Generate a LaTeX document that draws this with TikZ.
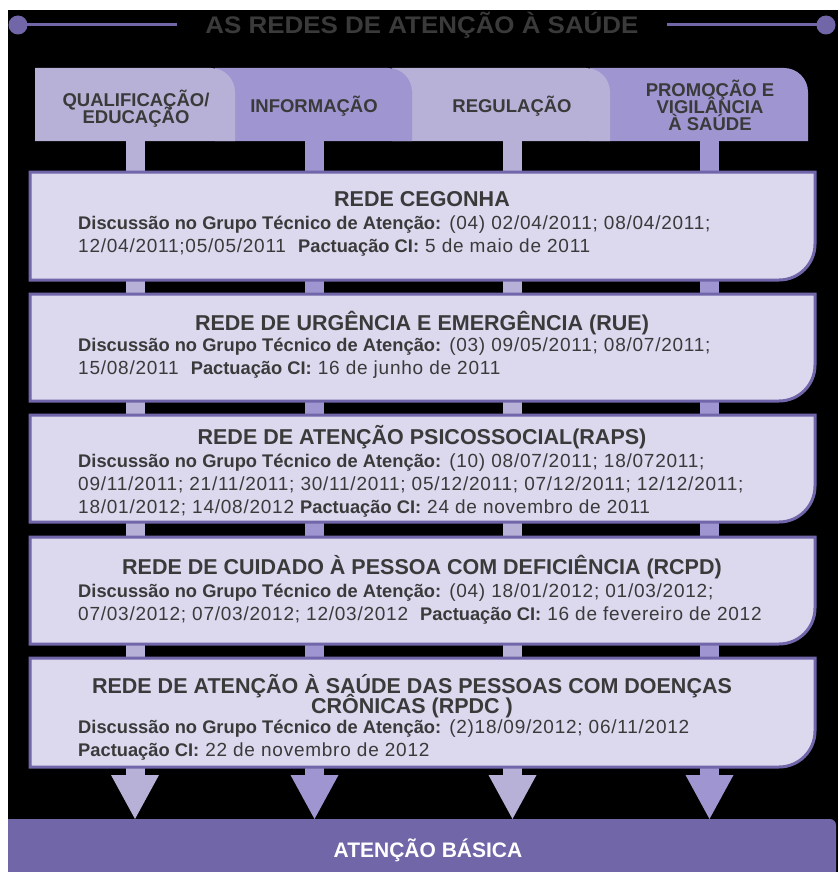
\documentclass[tikz,border=0pt]{standalone}
\usepackage{fontspec}
\setmainfont{Liberation Sans}
\newfontfamily\corpo{Liberation Sans}[LetterSpace=4]
\usetikzlibrary{arrows.meta}

\definecolor{lilasclaro}{HTML}{B7B1D7}
\definecolor{lilas}{HTML}{9F95D1}
\definecolor{caixafundo}{HTML}{DCD8EE}
\definecolor{caixaborda}{HTML}{7066A9}
\definecolor{roxo}{HTML}{7066A8}
\definecolor{cinzatexto}{HTML}{3A3A3A}

\tikzset{
  aba/.style={font=\fontsize{18.5}{17}\selectfont\bfseries, text=cinzatexto, align=center, inner sep=0pt},
  tituloRede/.style={font=\fontsize{21.5}{20}\selectfont\bfseries, text=cinzatexto, align=center, anchor=base, inner sep=0pt},
  textoRede/.style={font=\corpo\fontsize{19}{23}\selectfont, text=cinzatexto, align=left, anchor=base west, inner sep=0pt},
  haste/.style={line width=19pt},
  ponta/.style={-{Triangle[width=48pt, length=44pt, line width=0pt, fill=#1]}, draw=#1},
}

% rotulo em negrito sem espacamento extra
\newcommand{\rotulo}[1]{{\rmfamily\bfseries\fontsize{18.3}{23}\selectfont #1}}
% caixa de cada rede: topo, base
\newcommand{\caixarede}[2]{%
  \filldraw[fill=caixafundo, draw=caixaborda, line width=3pt]
    (30,#1) -- (815,#1) -- (815,#2-36) arc[start angle=0, end angle=90, radius=36] -- (30,#2) -- cycle;}
% aba do topo: esquerda, direita, cor
\newcommand{\abaforma}[3]{%
  \fill[#3] (#1,141) -- (#1,68) -- (#2-24,68) arc[start angle=-90, end angle=0, radius=24] -- (#2,141) -- cycle;}

\begin{document}
\lineskiplimit=-20pt
\begin{tikzpicture}[x=1pt,y=-1pt]
  \useasboundingbox (0,0) rectangle (838,872);
  \fill[white] (0,0) rectangle (838,872);
  \fill[black] (8,10) rectangle (838,872);

  % titulo
  \coordinate (bolaE) at (18,25);
  \coordinate (bolaD) at (826,25);
  \node[font=\fontsize{24}{24}\selectfont\bfseries, text=cinzatexto, inner xsep=28pt] (titulo) at (422,25)
    {\scalebox{1.08}[1]{AS REDES DE ATENÇÃO À SAÚDE}};
  \draw[roxo, line width=3pt] (bolaE) -- (titulo.west);
  \draw[roxo, line width=3pt] (titulo.east) -- (bolaD);
  \fill[roxo] (bolaE) circle[radius=9.5];
  \fill[roxo] (bolaD) circle[radius=9.5];

  % abas
  \abaforma{590}{808}{lilas}
  \abaforma{392}{610}{lilasclaro}
  \abaforma{215}{412}{lilas}
  \abaforma{35}{235}{lilasclaro}
  \node[aba] (qualif) at (136,109) {QUALIFICAÇÃO/\\EDUCAÇÃO};
  \node[aba] (info) at (314,106) {INFORMAÇÃO};
  \node[aba] (regul) at (512,106) {REGULAÇÃO};
  \node[aba] (promo) at (710,105) {PROMOÇÃO E\\VIGILÂNCIA\\À SAÚDE};

  % base
  \fill[roxo] (8,819) -- (830,819) arc[start angle=-90, end angle=0, radius=6] -- (836,872) -- (8,872) -- cycle;
  \coordinate (basetopo) at (422,819);
  \node[font=\fontsize{21}{21}\selectfont\bfseries, text=white] (basica) at (428,850) {ATENÇÃO BÁSICA};

  % hastes das abas ate a base
  \coordinate (qualB) at (135,141);
  \coordinate (infoB) at (314.5,141);
  \coordinate (regulB) at (512.5,141);
  \coordinate (promoB) at (709.5,141);
  \draw[haste, ponta=lilasclaro] (qualB) -- (qualB |- basetopo);
  \draw[haste, ponta=lilas] (infoB) -- (infoB |- basetopo);
  \draw[haste, ponta=lilasclaro] (regulB) -- (regulB |- basetopo);
  \draw[haste, ponta=lilas] (promoB) -- (promoB |- basetopo);

  % redes
  \caixarede{172}{280}
  \caixarede{294}{401}
  \caixarede{415}{522}
  \caixarede{537}{644}
  \caixarede{658}{767}

  \node[tituloRede] (cegonha) at (422,206) {REDE CEGONHA};
  \node[textoRede] (cegonhaTxt) at (78,252)
    {\rotulo{Discussão no Grupo Técnico de Atenção:} (04) 02/04/2011; 08/04/2011;\\
     12/04/2011;05/05/2011\ \ \rotulo{Pactuação CI:} 5 de maio de 2011};

  \node[tituloRede] (rue) at (422,330) {REDE DE URGÊNCIA E EMERGÊNCIA (RUE)};
  \node[textoRede] (rueTxt) at (78,374.5)
    {\rotulo{Discussão no Grupo Técnico de Atenção:} (03) 09/05/2011; 08/07/2011;\\
     15/08/2011\ \ \rotulo{Pactuação CI:} 16 de junho de 2011};

  \node[tituloRede] (raps) at (422,444) {REDE DE ATENÇÃO PSICOSSOCIAL(RAPS)};
  \node[textoRede] (rapsTxt) at (78,513.5)
    {\rotulo{Discussão no Grupo Técnico de Atenção:} (10) 08/07/2011; 18/072011;\\
     09/11/2011; 21/11/2011; 30/11/2011; 05/12/2011; 07/12/2011; 12/12/2011;\\
     18/01/2012; 14/08/2012 \rotulo{Pactuação CI:} 24 de novembro de 2011};

  \node[tituloRede] (rcpd) at (422,574) {REDE DE CUIDADO À PESSOA COM DEFICIÊNCIA (RCPD)};
  \node[textoRede] (rcpdTxt) at (78,620.5)
    {\rotulo{Discussão no Grupo Técnico de Atenção:} (04) 18/01/2012; 01/03/2012;\\
     07/03/2012; 07/03/2012; 12/03/2012\ \ \rotulo{Pactuação CI:} 16 de fevereiro de 2012};

  \node[tituloRede] (rpdc) at (412,713) {REDE DE ATENÇÃO À SAÚDE DAS PESSOAS COM DOENÇAS\\CRÔNICAS (RPDC )};
  \node[textoRede] (rpdcTxt) at (78,756.5)
    {\rotulo{Discussão no Grupo Técnico de Atenção:} (2)18/09/2012; 06/11/2012\\
     \rotulo{Pactuação CI:} 22 de novembro de 2012};
\end{tikzpicture}
\end{document}
